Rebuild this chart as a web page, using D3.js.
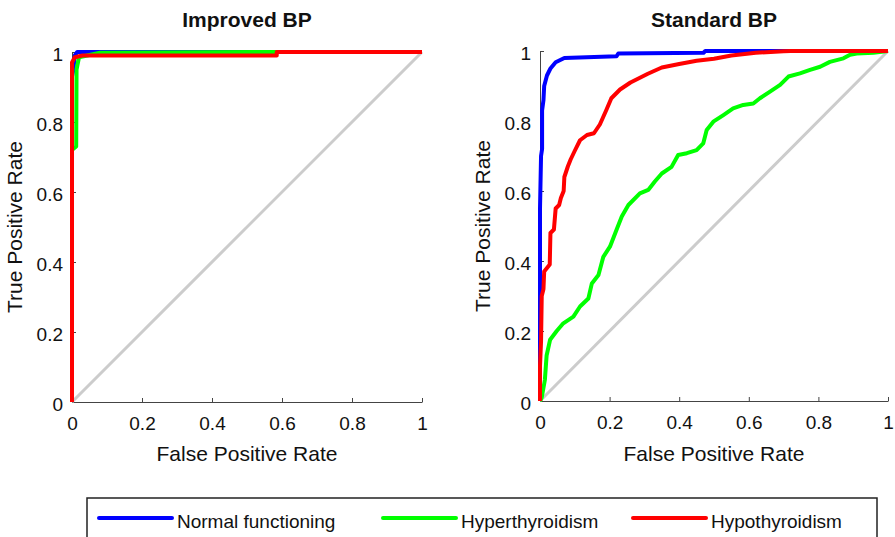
<!DOCTYPE html>
<html>
<head>
<meta charset="utf-8">
<script src="https://cdn.jsdelivr.net/npm/d3@7"></script>
<style>
  body { margin: 0; background: #fff; }
  svg { display: block; }
  .tick text { font-family: "Liberation Sans", Arial, sans-serif; font-size: 19px; fill: #111; }
  .lbl { font-family: "Liberation Sans", Arial, sans-serif; font-size: 21px; fill: #111; }
  .leg { font-family: "Liberation Sans", Arial, sans-serif; font-size: 19px; fill: #111; }
  .ttl { font-family: "Liberation Sans", Arial, sans-serif; font-size: 21px; font-weight: bold; fill: #111; }
</style>
</head>
<body>
<div id="chart"></div>
<script>
(function(){

    "use strict";

    //-> ROC curves, [false positive rate, true positive rate]
    var improvedNormal = [[0,0],[0,0.93],[0.004,0.95],[0.008,0.99],[0.015,1],[1,1]];
    var improvedHyper = [[0,0],[0,0.72],[0.012,0.73],[0.013,0.95],[0.02,0.985],[0.08,0.998],[0.58,1],[1,1]];
    var improvedHypo = [[0,0],[0,0.97],[0.008,0.985],[0.03,0.99],[0.585,0.99],[0.585,1],[1,1]];

    var standardNormal = [[0,0],[0,0.55],[0.003,0.7],[0.006,0.72],[0.006,0.83],[0.01,0.86],[0.012,0.9],[0.02,0.93],
        [0.03,0.95],[0.045,0.968],[0.07,0.98],[0.22,0.985],[0.225,0.993],[0.47,0.995],[0.475,1],[1,1]];
    var standardHyper = [[0,0],[0.005,0.01],[0.014,0.06],[0.019,0.13],[0.029,0.175],[0.048,0.2],[0.067,0.222],
        [0.096,0.241],[0.115,0.27],[0.139,0.293],[0.149,0.336],[0.168,0.36],[0.182,0.412],[0.201,0.441],
        [0.22,0.489],[0.235,0.527],[0.254,0.56],[0.287,0.593],[0.311,0.603],[0.33,0.627],[0.35,0.65],
        [0.378,0.669],[0.397,0.703],[0.422,0.708],[0.45,0.717],[0.469,0.736],[0.479,0.774],[0.498,0.798],
        [0.527,0.817],[0.555,0.836],[0.584,0.846],[0.613,0.85],[0.632,0.865],[0.661,0.884],[0.69,0.903],
        [0.714,0.927],[0.747,0.936],[0.776,0.946],[0.805,0.955],[0.833,0.969],[0.872,0.979],[0.891,0.989],
        [0.91,0.993],[0.958,0.995],[1,1]];
    var standardHypo = [[0,0],[0,0.1],[0.003,0.17],[0.005,0.3],[0.01,0.32],[0.012,0.37],[0.02,0.38],[0.028,0.39],
        [0.03,0.48],[0.04,0.49],[0.045,0.55],[0.055,0.56],[0.06,0.58],[0.068,0.6],[0.07,0.64],[0.08,0.67],
        [0.088,0.69],[0.1,0.715],[0.115,0.745],[0.135,0.76],[0.155,0.765],[0.172,0.79],[0.19,0.83],
        [0.205,0.865],[0.23,0.89],[0.26,0.91],[0.31,0.935],[0.35,0.953],[0.4,0.963],[0.45,0.972],
        [0.5,0.978],[0.55,0.987],[0.62,0.995],[0.7,0.999],[0.72,1],[1,1]];

    var tickValues = [0, 0.2, 0.4, 0.6, 0.8, 1];
    var classNames = ["Normal functioning", "Hyperthyroidism", "Hypothyroidism"];
    var classColors = ["#0000ff", "#00ff00", "#ff0000"];

    var width = 895, height = 537;

    var svg = d3.select("#chart").append("svg")
        .attr("width", width)
        .attr("height", height);

    //-> one panel = title, axes, chance line and three curves
    function drawPanel(box, title, curves) {
        var x = d3.scaleLinear().domain([0, 1]).range([box.left, box.right]),
            y = d3.scaleLinear().domain([0, 1]).range([box.bottom, box.top]);

        var line = d3.line()
            .x(function(d) { return x(d[0]); })
            .y(function(d) { return y(d[1]); });

        var fmt = function(d) { return String(+d.toFixed(1)); };

        svg.append("g")
            .attr("transform", "translate(0," + box.bottom + ")")
            .call(d3.axisBottom(x).tickValues(tickValues).tickFormat(fmt)
                .tickSizeInner(-4).tickSizeOuter(0).tickPadding(15))
            .call(function(g) { g.selectAll("path, line").attr("stroke", "#444"); });

        svg.append("g")
            .attr("transform", "translate(" + box.left + ",0)")
            .call(d3.axisLeft(y).tickValues(tickValues).tickFormat(fmt)
                .tickSizeInner(-4).tickSizeOuter(0).tickPadding(9))
            .call(function(g) {
                g.selectAll("path, line").attr("stroke", "#444");
                g.selectAll("text").attr("dy", "0.45em");
            });

        //-> chance diagonal
        svg.append("path")
            .datum([[0, 0], [1, 1]])
            .attr("d", line)
            .attr("fill", "none")
            .attr("stroke", "#cccccc")
            .attr("stroke-width", 3);

        curves.forEach(function(c, i) {
            svg.append("path")
                .datum(c)
                .attr("d", line)
                .attr("fill", "none")
                .attr("stroke", classColors[i])
                .attr("stroke-width", 4)
                .attr("stroke-linejoin", "round");
        });

        svg.append("text")
            .attr("class", "ttl")
            .attr("x", (box.left + box.right) / 2)
            .attr("y", 27)
            .attr("text-anchor", "middle")
            .text(title);

        svg.append("text")
            .attr("class", "lbl")
            .attr("x", (box.left + box.right) / 2)
            .attr("y", 461)
            .attr("text-anchor", "middle")
            .text("False Positive Rate");

        svg.append("text")
            .attr("class", "lbl")
            .attr("text-anchor", "middle")
            .attr("transform", "translate(" + (box.left - 50) + "," + ((box.top + box.bottom) / 2) + ")rotate(-90)")
            .text("True Positive Rate");
    }

    drawPanel({left: 72, right: 422, top: 52, bottom: 402}, "Improved BP",
        [improvedNormal, improvedHyper, improvedHypo]);
    drawPanel({left: 540, right: 888, top: 51, bottom: 401}, "Standard BP",
        [standardNormal, standardHyper, standardHypo]);

    //-> legend box, cut by the bottom edge like the source
    var legend = svg.append("g");
    legend.append("rect")
        .attr("x", 87)
        .attr("y", 498)
        .attr("width", 790)
        .attr("height", 60)
        .attr("fill", "#fff")
        .attr("stroke", "#222")
        .attr("stroke-width", 1.5);

    var legendX = [99, 383, 633];
    classNames.forEach(function(name, i) {
        legend.append("line")
            .attr("x1", legendX[i]).attr("x2", legendX[i] + 73)
            .attr("y1", 518).attr("y2", 518)
            .attr("stroke", classColors[i])
            .attr("stroke-width", 4)
            .attr("stroke-linecap", "round");
        legend.append("text")
            .attr("class", "leg")
            .attr("x", legendX[i] + 78)
            .attr("y", 528)
            .text(name);
    });

})();
</script>
</body>
</html>
